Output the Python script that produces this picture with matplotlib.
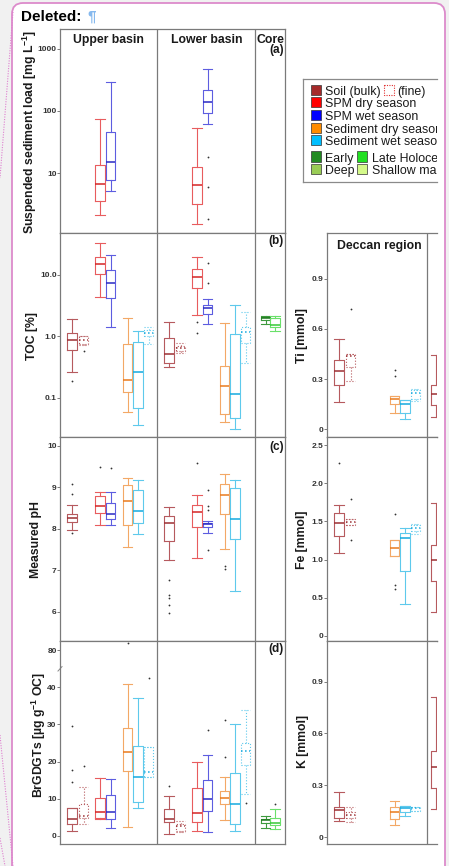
import numpy as np
import matplotlib
matplotlib.use("Agg")
import matplotlib.pyplot as plt
from matplotlib.patches import Rectangle, FancyBboxPatch

plt.rcParams['font.family'] = ['Liberation Sans', 'DejaVu Sans']
plt.rcParams['mathtext.fontset'] = 'custom'
plt.rcParams['mathtext.rm'] = 'Liberation Sans'
plt.rcParams['mathtext.bf'] = 'Liberation Sans:bold'
plt.rcParams['mathtext.it'] = 'Liberation Sans:italic'

W, H = 449, 866

# ---------------------------------------------------------------------------
# Box statistics: (group, sample type, [whisker low, Q1, median, Q3, whisker high], outliers)
# ---------------------------------------------------------------------------
SSL_BOXES = [
    ("upper", "spm_dry", [2.1, 3.6, 6.6, 13.6, 73], []),
    ("upper", "spm_wet", [5.1, 7.8, 14.9, 45, 297], []),
    ("lower", "spm_dry", [1.5, 3.2, 6.5, 12.6, 53], []),
    ("lower", "spm_wet", [61, 93, 138, 218, 470], [18.3, 5.9, 1.8]),
]

TOC_BOXES = [
    ("upper", "soil", [0.257, 0.605, 0.88, 1.14, 1.93], [0.188]),
    ("upper", "soil_fine", [0.72, 0.75, 0.87, 1.0, 1.02], [0.57]),
    ("upper", "spm_dry", [4.4, 10.5, 14.8, 19.7, 33.5], []),
    ("upper", "spm_wet", [1.44, 4.15, 7.5, 12.1, 20.8], []),
    ("upper", "sed_dry", [0.058, 0.121, 0.19, 0.74, 1.95], []),
    ("upper", "sed_wet", [0.036, 0.067, 0.26, 0.81, 1.21], []),
    ("upper", "sed_wet_fine", [0.75, 1.0, 1.12, 1.24, 1.43], []),
    ("lower", "soil", [0.315, 0.366, 0.51, 0.93, 1.72], []),
    ("lower", "soil_fine", [0.53, 0.58, 0.64, 0.70, 0.78], []),
    ("lower", "spm_dry", [2.24, 6.1, 9.4, 12.5, 19.3], [1.72, 1.12]),
    ("lower", "spm_wet", [1.61, 2.3, 2.84, 3.2, 4.1], [15.7, 7.4]),
    ("lower", "sed_dry", [0.040, 0.054, 0.154, 0.327, 1.63], []),
    ("lower", "sed_wet", [0.031, 0.046, 0.114, 1.1, 3.18], []),
    ("lower", "sed_wet_fine", [0.37, 0.79, 1.16, 1.43, 2.51], []),
    ("core", "early", [1.6, 1.85, 1.95, 2.05, 2.16], []),
    ("core", "late", [1.21, 1.41, 1.51, 1.97, 2.16], []),
]

PH_BOXES = [
    ("upper", "soil", [7.97, 8.17, 8.25, 8.35, 8.57], [9.08, 8.83, 7.89]),
    ("upper", "spm_dry", [8.10, 8.39, 8.56, 8.79, 8.89], [9.48]),
    ("upper", "spm_wet", [8.09, 8.23, 8.36, 8.63, 8.89], [9.46]),
    ("upper", "sed_dry", [7.56, 8.09, 8.67, 9.06, 9.23], []),
    ("upper", "sed_wet", [7.88, 8.13, 8.43, 8.93, 9.18], []),
    ("lower", "soil", [7.24, 7.70, 8.15, 8.31, 8.52], [6.76, 6.41, 6.34, 6.17, 5.98]),
    ("lower", "spm_dry", [7.30, 8.04, 8.41, 8.57, 8.81], [9.59]),
    ("lower", "spm_wet", [7.89, 8.04, 8.11, 8.15, 8.19], [8.93, 8.56, 8.46, 7.50]),
    ("lower", "sed_dry", [7.52, 8.35, 8.81, 9.08, 9.31], [7.11, 7.04]),
    ("lower", "sed_wet", [6.51, 7.76, 8.24, 8.98, 9.18], []),
]

BRGDGT_BOXES = [
    ("upper", "soil", [1.3, 3.1, 4.4, 7.4, 7.5], [29.7, 17.7, 14.6]),
    ("upper", "soil_fine", [3.2, 4.7, 5.3, 8.5, 13.0], [18.8]),
    ("upper", "spm_dry", [4.6, 4.7, 6.5, 10.1, 15.5], []),
    ("upper", "spm_wet", [2.0, 4.4, 6.3, 10.9, 15.2], []),
    ("upper", "sed_dry", [2.4, 17.5, 22.5, 29.0, 41.0], [82.0]),
    ("upper", "sed_wet", [7.6, 9.2, 15.7, 24.1, 37.1], []),
    ("upper", "sed_wet_fine", [15.9, 15.9, 17.3, 24.0, 24.0], [42.4]),
    ("lower", "soil", [0.5, 3.6, 4.4, 7.3, 10.8], [13.4]),
    ("lower", "soil_fine", [1.0, 1.4, 2.6, 3.1, 4.0], []),
    ("lower", "spm_dry", [1.3, 3.8, 6.2, 12.8, 19.8], []),
    ("lower", "spm_wet", [1.0, 6.6, 9.9, 15.1, 21.7], [28.6]),
    ("lower", "sed_dry", [4.2, 8.5, 10.2, 12.0, 15.9], [31.3, 21.1]),
    ("lower", "sed_wet", [1.4, 3.2, 8.6, 17.0, 30.1], []),
    ("lower", "sed_wet_fine", [11.3, 19.0, 22.9, 25.1, 33.8], [8.9]),
    ("core", "early", [2.0, 3.3, 4.1, 4.5, 5.3], []),
    ("core", "late", [1.7, 2.9, 3.3, 4.7, 7.3], [8.5]),
]

TI_BOXES = [
    ("deccan", "soil", [0.162, 0.262, 0.346, 0.412, 0.542], []),
    ("deccan", "soil_fine", [0.29, 0.372, 0.44, 0.45, 0.45], [0.716]),
    ("deccan", "sed_dry", [0.096, 0.154, 0.18, 0.2, 0.2], [0.352, 0.32]),
    ("deccan", "sed_wet", [0.06, 0.1, 0.152, 0.176, 0.176], []),
    ("deccan", "sed_wet_fine", [0.166, 0.18, 0.216, 0.236, 0.24], []),
    ("other", "soil", [0.076, 0.146, 0.21, 0.266, 0.442], []),
]

FE_BOXES = [
    ("deccan", "soil", [1.088, 1.307, 1.474, 1.605, 1.71], [2.26]),
    ("deccan", "soil_fine", [1.452, 1.452, 1.496, 1.535, 1.535], [1.79, 1.25]),
    ("deccan", "sed_dry", [1.053, 1.053, 1.154, 1.259, 1.259], [1.60, 0.67, 0.62]),
    ("deccan", "sed_wet", [0.417, 0.855, 1.285, 1.346, 1.408], []),
    ("deccan", "sed_wet_fine", [1.338, 1.373, 1.408, 1.452, 1.469], []),
    ("other", "soil", [0.316, 0.724, 1.0, 1.197, 1.746], []),
]

K_BOXES = [
    ("deccan", "soil", [0.095, 0.112, 0.157, 0.176, 0.263], []),
    ("deccan", "soil_fine", [0.089, 0.108, 0.128, 0.147, 0.172], []),
    ("deccan", "sed_dry", [0.072, 0.103, 0.147, 0.172, 0.207], []),
    ("deccan", "sed_wet", [0.122, 0.147, 0.17, 0.182, 0.182], []),
    ("deccan", "sed_wet_fine", [0.153, 0.153, 0.166, 0.176, 0.176], []),
    ("other", "soil", [0.161, 0.286, 0.408, 0.499, 0.811], []),
]

SSL_TICKS = [10, 100, 1000]
SSL_TICKLABELS = ["10", "100", "1000"]
TOC_TICKS = [0.1, 1.0, 10.0]
TOC_TICKLABELS = ["0.1", "1.0", "10.0"]
PH_TICKS = [6, 7, 8, 9, 10]
PH_TICKLABELS = ["6", "7", "8", "9", "10"]
BRGDGT_TICKS = [0, 10, 20, 30, 40, 80]
BRGDGT_TICKLABELS = ["0", "10", "20", "30", "40", "80"]
TI_TICKS = [0, 0.3, 0.6, 0.9]
TI_TICKLABELS = ["0", "0.3", "0.6", "0.9"]
FE_TICKS = [0, 0.5, 1.0, 1.5, 2.0, 2.5]
FE_TICKLABELS = ["0", "0.5", "1.0", "1.5", "2.0", "2.5"]
K_TICKS = [0, 0.3, 0.6, 0.9]
K_TICKLABELS = ["0", "0.3", "0.6", "0.9"]

LEGEND_ROWS = [
    [("Soil (bulk)", "#a52a2a", "-"), ("(fine)", "#e03030", ":")],
    [("SPM dry season", "#ff0000", "-")],
    [("SPM wet season", "#0000ff", "-")],
    [("Sediment dry season", "#ff8c00", "-")],
    [("Sediment wet season", "#00bfff", "-")],
    [("Early", "#228b22", "-"), ("Late Holocene", "#22e022", "-")],
    [("Deep", "#99cc55", "-"), ("Shallow marine", "#d4f98a", "-")],
]

# ---------------------------------------------------------------------------
# Layout (pixel units) and styles
# ---------------------------------------------------------------------------
GROUP_BASE = {"upper": 0, "lower": 97, "core": 195, "deccan": 0, "other": 97}
SLOT = {"soil": 12, "soil_fine": 23.5, "spm_dry": 40, "spm_wet": 50.5,
        "sed_dry": 67.5, "sed_wet": 78, "sed_wet_fine": 88.5,
        "early": 10.5, "late": 20}
BOX_W = 9.5
LINE_COLORS = {
    "soil": ("#b65a5e", "#9c2f33"),
    "soil_fine": ("#b65a5e", "#9c2f33"),
    "spm_dry": ("#e85c5e", "#d42525"),
    "spm_wet": ("#5d5de0", "#2a2ac4"),
    "sed_dry": ("#f3a866", "#ea7a1c"),
    "sed_wet": ("#5ec9ec", "#14a9df"),
    "sed_wet_fine": ("#5ec9ec", "#14a9df"),
    "early": ("#3d9a3d", "#1f7a1f"),
    "late": ("#6ae06a", "#35c935"),
}
SPINE = "#7a7a7a"
TXT = "#1a1a1a"

fig = plt.figure(figsize=(W / 100, H / 100), dpi=100, facecolor="#f1f1f1")


def add_px_axes(x0, y0, x1, y1, **kw):
    return fig.add_axes([x0 / W, 1 - y1 / H, (x1 - x0) / W, (y1 - y0) / H], **kw)


# page with rounded pink frame
page = add_px_axes(0, 0, W, H, zorder=-10)
page.set_xlim(0, W)
page.set_ylim(H, 0)
page.axis("off")
page.add_patch(FancyBboxPatch((12, 3), 433, 900,
                              boxstyle="round,pad=0,rounding_size=11",
                              fc="white", ec="#dc8bcb", lw=1.3))
dot = dict(color="#de7fcf", lw=0.8, ls=(0, (1, 1.3)))
page.plot([13, 0], [12, 178], **dot)
page.plot([0, 13], [735, 866], **dot)
page.plot([0, 5], [838, 866], **dot)
page.text(20.5, 20.7, "Deleted:", fontsize=11, fontweight="bold",
          color="black", va="baseline", ha="left")
page.text(87.5, 20.7, "¶", fontsize=11, fontweight="bold",
          color="#86b9ee", va="baseline", ha="left")


def draw_boxes(ax, boxes):
    for group, cat, stats, fliers in boxes:
        x = GROUP_BASE[group] + SLOT[cat]
        col, mcol = LINE_COLORS[cat]
        ls = ":" if cat.endswith("fine") else "-"
        lo, q1, md, q3, hi = stats
        st = dict(whislo=lo, q1=q1, med=md, q3=q3, whishi=hi,
                  fliers=np.array(fliers, dtype=float))
        lp = dict(color=col, lw=0.8, ls=ls)
        ax.bxp([st], positions=[x], widths=[BOX_W], capwidths=[BOX_W],
               boxprops=lp, whiskerprops=lp, capprops=lp,
               medianprops=dict(color=mcol, lw=1.1, ls=ls),
               flierprops=dict(marker="o", markersize=1.3,
                               markerfacecolor="#333333",
                               markeredgecolor="none", linestyle="none"),
               manage_ticks=False)


def style_axes(ax, xmax, ticks, ticklabels, open_right=False):
    ax.set_xlim(0, xmax)
    ax.set_xticks([])
    ax.set_yticks(ticks, ticklabels, fontsize=6, fontweight="bold", color="#333333")
    ax.minorticks_off()
    ax.tick_params(axis="y", direction="out", length=2, width=0.6,
                   color="#666666", pad=0.4)
    for side, sp in ax.spines.items():
        sp.set_color(SPINE)
        sp.set_linewidth(0.9)
    if open_right:
        ax.spines["right"].set_visible(False)


def ylabel(x, y, text):
    fig.text(x / W, 1 - y / H, text, rotation=90, ha="center", va="center",
             fontsize=8.8, fontweight="bold", color=TXT)


def px_text(x, y, s, **kw):
    # place text in figure pixel coordinates
    fig.text(x / W, 1 - y / H, s, color=TXT, fontweight="bold", **kw)


# ---------------- left column (basins + core) ----------------
ax_a = add_px_axes(60, 29, 285, 233)
ax_a.set_yscale("log")
draw_boxes(ax_a, SSL_BOXES)
ax_a.set_ylim(1.08, 2090)
style_axes(ax_a, 225, SSL_TICKS, SSL_TICKLABELS)

ax_b = add_px_axes(60, 233, 285, 437)
ax_b.set_yscale("log")
draw_boxes(ax_b, TOC_BOXES)
ax_b.set_ylim(0.0227, 48.3)
style_axes(ax_b, 225, TOC_TICKS, TOC_TICKLABELS)

ax_c = add_px_axes(60, 437, 285, 641)
draw_boxes(ax_c, PH_BOXES)
ax_c.set_ylim(5.30, 10.21)
style_axes(ax_c, 225, PH_TICKS, PH_TICKLABELS)


def brk_fwd(v):
    v = np.asarray(v, dtype=float)
    return np.where(v <= 45, v, np.where(v >= 75, v - 30, 45.0))


def brk_inv(p):
    p = np.asarray(p, dtype=float)
    return np.where(p <= 45, p, p + 30)


ax_d = add_px_axes(60, 641, 285, 844)
ax_d.set_yscale("function", functions=(brk_fwd, brk_inv))
draw_boxes(ax_d, BRGDGT_BOXES)
ax_d.set_ylim(-2.24, 82.5)
style_axes(ax_d, 225, BRGDGT_TICKS, BRGDGT_TICKLABELS)
ax_d.plot([-0.009, 0.009], [44.4, 75.6], transform=ax_d.get_yaxis_transform(),
          color="#888888", lw=0.7, clip_on=False)

for ax in (ax_a, ax_b, ax_c, ax_d):
    ax.axvline(97, color=SPINE, lw=0.9)
    ax.axvline(195, color=SPINE, lw=0.9)

px_text(108.8, 42.7, "Upper basin", fontsize=8.8, ha="center", va="baseline")
px_text(206.5, 42.7, "Lower basin", fontsize=8.8, ha="center", va="baseline")
px_text(256.3, 42.7, "Core", fontsize=8.8, ha="left", va="baseline")
px_text(283.5, 53.5, "(a)", fontsize=8.5, ha="right", va="baseline")
px_text(283.5, 244.0, "(b)", fontsize=8.5, ha="right", va="baseline")
px_text(283.5, 449.5, "(c)", fontsize=8.5, ha="right", va="baseline")
px_text(283.5, 652.3, "(d)", fontsize=8.5, ha="right", va="baseline")

ylabel(30.0, 132.0, r"Suspended sediment load [mg L$^{\mathbf{-1}}$]")
ylabel(32.3, 336, "TOC [%]")
ylabel(36.0, 540, "Measured pH")
ylabel(39.3, 735, r"BrGDGTs [µg g$^{\mathbf{-1}}$ OC]")

# ---------------- right column (Deccan region) ----------------
ax_ti = add_px_axes(327, 233, 437, 437)
draw_boxes(ax_ti, TI_BOXES)
ax_ti.set_ylim(-0.046, 1.172)
style_axes(ax_ti, 110, TI_TICKS, TI_TICKLABELS, open_right=True)

ax_fe = add_px_axes(327, 437, 437, 641)
draw_boxes(ax_fe, FE_BOXES)
ax_fe.set_ylim(-0.066, 2.605)
style_axes(ax_fe, 110, FE_TICKS, FE_TICKLABELS, open_right=True)

ax_k = add_px_axes(327, 641, 437, 844)
draw_boxes(ax_k, K_BOXES)
ax_k.set_ylim(-0.04, 1.135)
style_axes(ax_k, 110, K_TICKS, K_TICKLABELS, open_right=True)

for ax in (ax_ti, ax_fe, ax_k):
    ax.axvline(100, color=SPINE, lw=0.9)

px_text(379.3, 248.7, "Deccan region", fontsize=8.8, ha="center", va="baseline")
ylabel(302.3, 335.5, "Ti [mmol]")
ylabel(302.3, 539.5, "Fe [mmol]")
ylabel(302.8, 741.5, "K [mmol]")

# ---------------- legend ----------------
leg = add_px_axes(303, 79, 437, 182)
leg.set_xlim(303, 437)
leg.set_ylim(182, 79)
leg.set_xticks([])
leg.set_yticks([])
for side, sp in leg.spines.items():
    sp.set_color("#8a8a8a")
    sp.set_linewidth(0.9)
leg.spines["right"].set_visible(False)

ROW_BASELINES = [95.3, 107.3, 120.0, 133.0, 145.3, 161.7, 174.3]
ENTRY_X = [(311, 325), (357, 371.5)]
for row, base in zip(LEGEND_ROWS, ROW_BASELINES):
    for i, (label, color, ls) in enumerate(row):
        if i == 1 and label == "(fine)":
            sx, tx = 384, 397.5
        else:
            sx, tx = ENTRY_X[i]
        if ls == ":":
            leg.add_patch(Rectangle((sx, base - 10.5), 9.7, 10.5, fc="none",
                                    ec=color, lw=0.8, ls=(0, (1, 1.2))))
        else:
            leg.add_patch(Rectangle((sx, base - 10.5), 10.3, 10.5, fc=color,
                                    ec="#333333", lw=0.5))
        leg.text(tx, base, label, fontsize=8.9, color=TXT, va="baseline",
                 ha="left", clip_on=True)

fig.savefig("out.png", dpi=100, facecolor=fig.get_facecolor())
